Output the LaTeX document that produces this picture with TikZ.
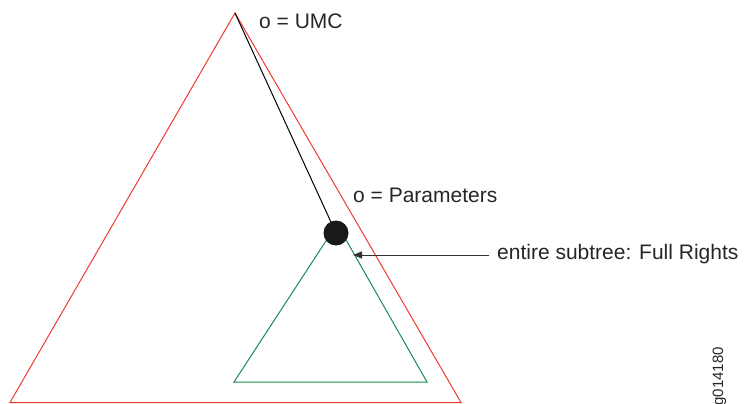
\documentclass[tikz,border=0pt]{standalone}
\usepackage{fontspec}
\setmainfont{Liberation Sans}
\usetikzlibrary{arrows.meta}
\definecolor{tri}{HTML}{EE3A2E}
\definecolor{sub}{HTML}{1A8A50}
\begin{document}
\begin{tikzpicture}[x=1pt,y=-1pt,
  lbl/.style={anchor=base west,inner sep=0pt,font=\fontsize{21}{24}\selectfont,text=black!85},
  redtri/.style={draw=tri,line width=1pt,line join=miter},
  greentri/.style={draw=sub,line width=1pt},
  dotnode/.style={circle,fill=black!90,inner sep=0pt,minimum size=25pt},
  pointer/.style={draw=black!80,line width=1pt,-{Triangle[length=9pt,width=7pt]}}]
\useasboundingbox (0,0) rectangle (744,404);
\coordinate (top) at (235,13);
\coordinate (bl) at (10,402.5);
\coordinate (br) at (461,402.5);
\coordinate (ga) at (337,224);
\coordinate (gl) at (234,382);
\coordinate (gr) at (427,382);
\draw[redtri] (top) -- (bl) -- (br) -- cycle;
\draw[greentri] (ga) -- (gl) -- (gr) -- cycle;
\draw[black,line width=1pt] (top) -- (336,233);
\node[dotnode] (dot) at (336,233) {};
\node[lbl] (umc) at (259,29) {o = UMC};
\node[lbl] (par) at (353,202) {o = Parameters};
\node[lbl] (full) at (497,259) {entire subtree: Full Rights};
\coordinate (tip) at (353,255);
\coordinate (tail) at (489,255);
\draw[pointer] (tail) -- (tip);
\node[anchor=base east,rotate=90,inner sep=0pt,font=\fontsize{15}{18}\selectfont,text=black!85] (id) at (723,347) {g014180};
\end{tikzpicture}
\end{document}
